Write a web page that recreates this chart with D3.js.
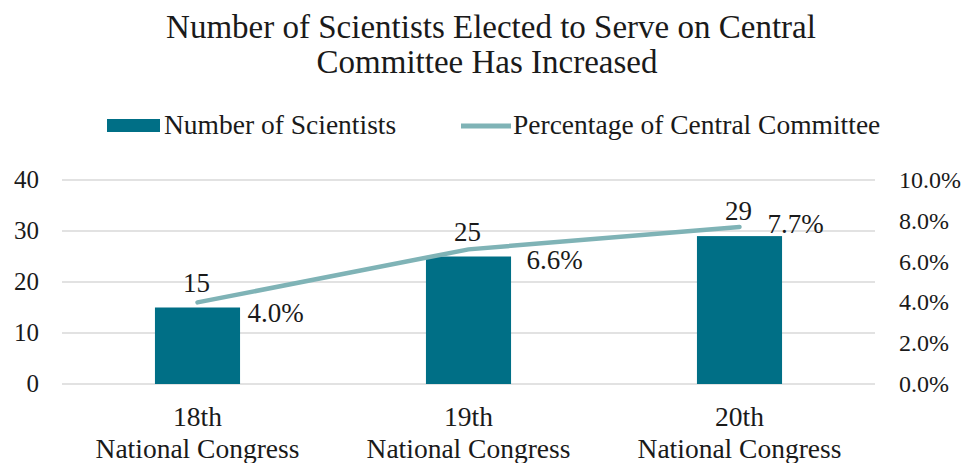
<!DOCTYPE html>
<html>
<head>
<meta charset="utf-8">
<script src="https://cdn.jsdelivr.net/npm/d3@7"></script>
<style>
  body { margin: 0; background: #fff; }
</style>
</head>
<body>
<div id="chart"></div>
<script>
// chart values
const congresses = ['18th|National Congress', '19th|National Congress', '20th|National Congress'];
const scientists = [15, 25, 29];
const percentShare = [0.040, 0.066, 0.077];
const leftTicks = [0, 10, 20, 30, 40];
const rightTicks = [0, 0.02, 0.04, 0.06, 0.08, 0.10];

const width = 972, height = 463;
const margin = {top: 180, right: 97, bottom: 79, left: 62};

const svg = d3.select('#chart').append('svg')
    .attr('width', width)
    .attr('height', height);

// helper so every label gets the same serif face
function label(sel, size) {
  return sel.attr('font-family', 'Liberation Serif')
      .attr('font-size', size)
      .attr('fill', '#1a1a1a');
}

const x = d3.scaleBand()
    .domain(congresses)
    .range([margin.left, width - margin.right])
    .paddingInner(0.686)
    .paddingOuter(0.343);

const yLeft = d3.scaleLinear()
    .domain([0, 40])
    .range([height - margin.bottom, margin.top]);

const yRight = d3.scaleLinear()
    .domain([0, 0.10])
    .range([height - margin.bottom, margin.top]);

// gridlines
svg.append('g')
  .selectAll('line')
  .data(leftTicks)
  .join('line')
    .attr('x1', margin.left)
    .attr('x2', width - margin.right)
    .attr('y1', d => yLeft(d))
    .attr('y2', d => yLeft(d))
    .attr('stroke', '#d9d9d9')
    .attr('stroke-width', 1.3);

// left axis labels
svg.append('g')
  .selectAll('text')
  .data(leftTicks)
  .join('text')
    .call(label, 25)
    .attr('x', 39)
    .attr('y', d => yLeft(d))
    .attr('dy', '0.33em')
    .attr('text-anchor', 'end')
    .text(d => d);

// right axis labels
svg.append('g')
  .selectAll('text')
  .data(rightTicks)
  .join('text')
    .call(label, 24)
    .attr('x', 899)
    .attr('y', d => yRight(d))
    .attr('dy', '0.33em')
    .text(d => d3.format('.1%')(d));

// bars
svg.append('g')
  .selectAll('rect')
  .data(scientists)
  .join('rect')
    .attr('x', (d, i) => x(congresses[i]))
    .attr('y', d => yLeft(d))
    .attr('width', x.bandwidth())
    .attr('height', d => yLeft(0) - yLeft(d))
    .attr('fill', '#006f86');

// line
const line = d3.line()
    .x((d, i) => x(congresses[i]) + x.bandwidth() / 2)
    .y(d => yRight(d));

svg.append('path')
    .datum(percentShare)
    .attr('d', line)
    .attr('fill', 'none')
    .attr('stroke', '#7fb3b6')
    .attr('stroke-width', 4.5)
    .attr('stroke-linecap', 'round');

// bar value labels
svg.append('g')
  .selectAll('text')
  .data(scientists)
  .join('text')
    .call(label, 27)
    .attr('x', (d, i) => x(congresses[i]) + x.bandwidth() / 2 - 1)
    .attr('y', d => yLeft(d) - 16)
    .attr('text-anchor', 'middle')
    .text(d => d);

// line value labels
svg.append('g')
  .selectAll('text')
  .data(percentShare)
  .join('text')
    .call(label, 27)
    .attr('x', (d, i) => x(congresses[i]) + x.bandwidth() / 2 + (i === 2 ? 28 : 50 + i * 8))
    .attr('y', (d, i) => yRight(d) + (i === 2 ? 6 : 20))
    .text(d => d3.format('.1%')(d));

// category labels
const cat = svg.append('g')
  .selectAll('text')
  .data(congresses)
  .join('text')
    .call(label, 27.5)
    .attr('x', d => x(d) + x.bandwidth() / 2)
    .attr('y', 426)
    .attr('text-anchor', 'middle');

cat.append('tspan')
    .attr('x', d => x(d) + x.bandwidth() / 2)
    .text(d => d.split('|')[0]);
cat.append('tspan')
    .attr('x', d => x(d) + x.bandwidth() / 2)
    .attr('dy', 32)
    .text(d => d.split('|')[1]);

// title
const title = svg.append('text')
    .call(label, 33)
    .attr('x', 491)
    .attr('y', 38)
    .attr('text-anchor', 'middle');
title.append('tspan').attr('x', 491).text('Number of Scientists Elected to Serve on Central');
title.append('tspan').attr('x', 487).attr('dy', 35).text('Committee Has Increased');

// legend
const legend = svg.append('g');
legend.append('rect')
    .attr('x', 107).attr('y', 119)
    .attr('width', 53).attr('height', 13)
    .attr('fill', '#006f86');
legend.append('text')
    .call(label, 27.5)
    .attr('x', 164).attr('y', 134)
    .text('Number of Scientists');
legend.append('line')
    .attr('x1', 461).attr('x2', 511)
    .attr('y1', 126).attr('y2', 126)
    .attr('stroke', '#7fb3b6')
    .attr('stroke-width', 5);
legend.append('text')
    .call(label, 27.5)
    .attr('x', 513).attr('y', 134)
    .text('Percentage of Central Committee');
</script>
</body>
</html>
